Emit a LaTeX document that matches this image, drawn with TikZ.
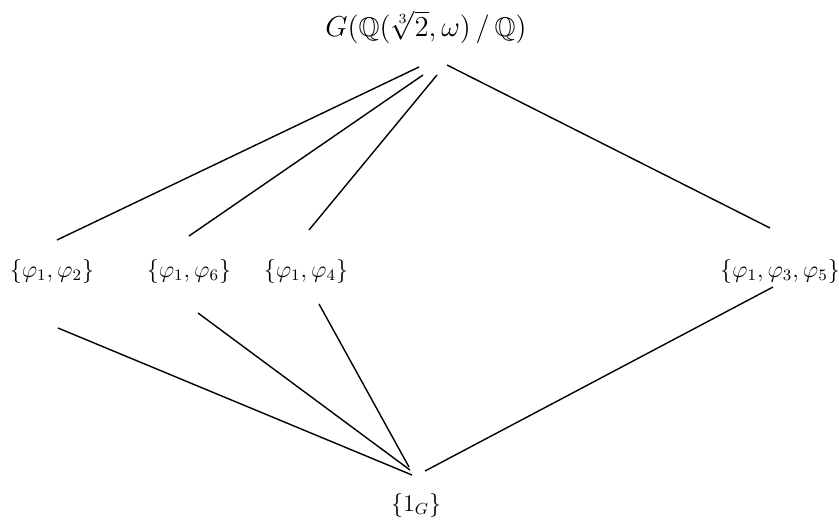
\documentclass[tikz,border=0pt]{standalone}
\usepackage{amssymb}
\usepackage{amsmath}
\usepackage{tikz}
\usetikzlibrary{calc}

\begin{document}
\begin{tikzpicture}[
  x=0.5pt, y=-0.5pt,
  group/.style={inner sep=0pt, font=\fontsize{12}{14}\selectfont},
  edge/.style={draw=black, line width=0.7pt}]
\useasboundingbox (0,0) rectangle (839,525);
\node[group, font=\fontsize{13.5}{16}\selectfont] (top) at (426,27) {$G(\mathbb{Q}(\sqrt[3]{2},\omega)\,/\,\mathbb{Q})$};
\node[group] (p12)  at (52,271)  {$\{\varphi_1,\varphi_2\}$};
\node[group] (p16)  at (189,271) {$\{\varphi_1,\varphi_6\}$};
\node[group] (p14)  at (306,271) {$\{\varphi_1,\varphi_4\}$};
\node[group] (p135) at (780,271) {$\{\varphi_1,\varphi_3,\varphi_5\}$};
\node[group] (one)  at (416,505) {$\{1_G\}$};
% upper edges
\foreach \a/\ax/\ay/\b/\bx/\by in {top/-7/40/p12/5/-31, top/-3/48/p16/0/-35,
    top/11/48/p14/3/-41, top/21/38/p135/-10/-43}
  \draw[edge] ($(\a)+(\ax,\ay)$) -- ($(\b)+(\bx,\by)$);
% lower edges
\foreach \a/\ax/\ay/\b/\bx/\by in {p12/6/57/one/-4/-30, p16/9/42/one/-6/-35,
    p14/13/33/one/-7/-38, p135/-7/16/one/9/-34}
  \draw[edge] ($(\a)+(\ax,\ay)$) -- ($(\b)+(\bx,\by)$);
\end{tikzpicture}
\end{document}
